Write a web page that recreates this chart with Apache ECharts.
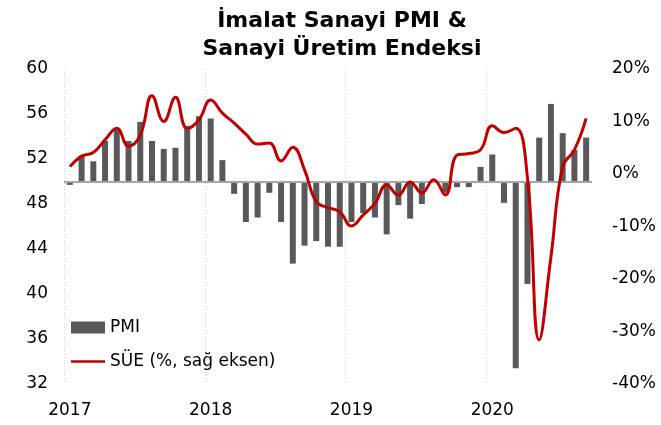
<!DOCTYPE html>
<html>
<head>
<meta charset="utf-8">
<script src="https://cdn.jsdelivr.net/npm/echarts@6/dist/echarts.min.js"></script>
<style>
html,body{margin:0;padding:0;background:#fff;}
#c{width:661px;height:425px;}
</style>
</head>
<body>
<div id="c"></div>
<script>
// Monthly categories (45 months as laid out in the picture)
const months = [];
for (let y = 2017; y <= 2020; y++) {
  for (let m = 1; m <= 12; m++) {
    if (months.length < 45) months.push(y + '-' + String(m).padStart(2, '0'));
  }
}
// PMI values (left axis)
const pmi = [49.7, 52.3, 51.8, 53.6, 54.7, 53.6, 55.3, 53.6, 52.9, 53.0, 54.9, 55.8,
             55.6, 51.9, 48.9, 46.4, 46.8, 49.0, 46.4, 42.7, 44.3, 44.7, 44.2, 44.2,
             46.4, 47.2, 46.8, 45.3, 47.9, 46.7, 48.0, 50.0, 49.0, 49.5, 49.5, 51.3,
             52.4, 48.1, 33.4, 40.9, 53.9, 56.9, 54.3, 52.8, 53.9];
// Sanayi Üretim Endeksi, yıllık % değişim (right axis)
const sue = [1.4, 3.4, 4.1, 6.5, 8.7, 5.3, 7.4, 14.9, 10.0, 14.6, 8.7, 10.3,
             14.1, 11.6, 9.7, 7.6, 5.7, 5.9, 2.5, 5.1, 0.8, -5.3, -6.4, -7.2,
             -9.9, -7.8, -5.6, -2.1, -4.0, -1.5, -3.6, -1.1, -4.0, 3.6, 3.9, 4.6,
             9.2, 7.9, 8.7, -0.8, -31.6, -15.8, 1.4, 4.6, 10.6];
const yearLabels = ['2017', '2018', '2019', '2020'];
const pmiBase = 50;

// Bars hang from 50: transparent base + visible part (stacked)
const baseData = pmi.map(v => Math.min(v, pmiBase));
const diffData = pmi.map(v => Math.abs(v - pmiBase));

const FONT = 'DejaVu Sans';
const chart = echarts.init(document.getElementById('c'), null, {renderer: 'canvas'});
const yearTick = (idx) => idx % 12 === 0;

chart.setOption({
  animation: false,
  backgroundColor: '#fff',
  textStyle: {fontFamily: FONT},
  title: {
    text: 'İmalat Sanayi PMI &\nSanayi Üretim Endeksi',
    left: 337, top: 5, textAlign: 'center',
    padding: [2, 5],
    textStyle: {fontFamily: FONT, fontSize: 22, fontWeight: 'bold', color: '#000', lineHeight: 28}
  },
  legend: {
    orient: 'vertical', left: 71, top: 319, padding: 0,
    itemWidth: 34, itemHeight: 12, itemGap: 17,
    symbolKeepAspect: true,
    textStyle: {fontFamily: FONT, fontSize: 17, color: '#000'},
    data: [
      {name: 'PMI', icon: 'rect', itemStyle: {color: '#595959'}},
      {name: 'SÜE (%, sağ eksen)', icon: 'path://M0,0H34V2.4H0Z', itemStyle: {color: '#c00000'}}
    ]
  },
  grid: {left: 64, right: 69, top: 69, bottom: 41, containLabel: false},
  xAxis: [
    {
      type: 'category', data: months, boundaryGap: true,
      axisLine: {show: false}, axisTick: {show: false},
      axisLabel: {
        interval: (i) => yearTick(i), margin: 18,
        fontFamily: FONT, fontSize: 17, color: '#000',
        formatter: (v) => v.slice(0, 4)
      },
      splitLine: {show: false}
    },
    {
      // helper axis for the yearly dotted gridlines at month boundaries
      type: 'value', min: 0, max: months.length, interval: 12, position: 'bottom',
      axisLine: {show: false}, axisTick: {show: false}, axisLabel: {show: false},
      splitLine: {show: true, showMinLine: true, showMaxLine: false,
                  lineStyle: {color: '#cfcfcf', type: [1, 2], width: 1}}
    }
  ],
  yAxis: [
    {
      type: 'value', min: 32, max: 60, interval: 4,
      axisLine: {show: false}, axisTick: {show: false}, splitLine: {show: false},
      axisLabel: {fontFamily: FONT, fontSize: 17, color: '#000', margin: 16}
    },
    {
      type: 'value', min: -40, max: 20, interval: 10, position: 'right',
      axisLine: {show: false}, axisTick: {show: false}, splitLine: {show: false},
      axisLabel: {fontFamily: FONT, fontSize: 17, color: '#000', margin: 20, formatter: (v) => v + '%'}
    }
  ],
  series: [
    {
      name: 'base', type: 'bar', stack: 'pmi', data: baseData, barWidth: 6,
      itemStyle: {color: 'rgba(0,0,0,0)'}, silent: true, legendHoverLink: false
    },
    {
      name: 'PMI', type: 'bar', stack: 'pmi', data: diffData, barWidth: 6,
      itemStyle: {color: '#595959'},
      markLine: {
        silent: true, symbol: ['none', 'none'], label: {show: false},
        lineStyle: {color: '#a6a6a6', width: 2, type: 'solid'},
        data: [{yAxis: pmiBase}]
      }
    },
    {
      name: 'SÜE (%, sağ eksen)', type: 'line', yAxisIndex: 1, data: sue,
      smooth: 0.45, symbol: 'none', z: 5,
      lineStyle: {color: '#c00000', width: 3},
      itemStyle: {color: '#c00000'}
    }
  ]
});
</script>
</body>
</html>
